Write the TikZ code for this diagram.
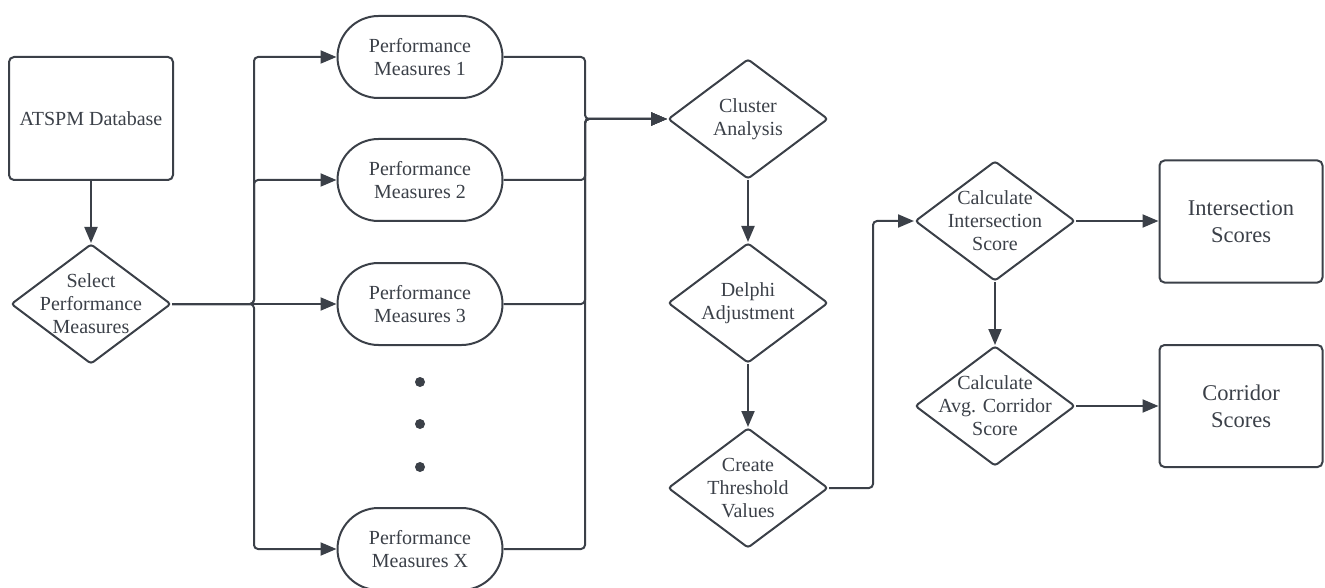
\documentclass[tikz,border=0pt]{standalone}
\usepackage{fontspec}
\setmainfont{Liberation Serif}
\usetikzlibrary{arrows.meta,shapes.geometric,calc}
\definecolor{ink}{HTML}{3B4048}
\begin{document}
\begin{tikzpicture}[x=1pt,y=-1pt,
  every node/.style={text=ink},
  txt/.style={font=\fontsize{20}{23}\selectfont, align=center, inner sep=0pt},
  bigtxt/.style={font=\fontsize{22.5}{27}\selectfont, align=center, inner sep=0pt},
  boxnode/.style={draw=ink, line width=2pt, rounded corners=5pt, minimum width=164pt, minimum height=123pt, txt},
  scorebox/.style={draw=ink, line width=2pt, rounded corners=5pt, minimum width=163pt, minimum height=122pt, bigtxt},
  pmnode/.style={draw=ink, line width=2pt, rounded corners=41pt, minimum width=165pt, minimum height=82pt, txt},
  dia/.style={draw=ink, line width=2pt, diamond, rounded corners=3pt, minimum width=160pt, minimum height=120pt, inner sep=0pt},
  conn/.style={draw=ink, line width=2pt, rounded corners=4pt},
  arr/.style={conn, -{Triangle[length=16pt,width=13pt]}},
  dot/.style={circle, fill=ink, inner sep=0pt, minimum size=10pt}
]
\useasboundingbox (0,0) rectangle (1325,588);

% nodes
\node[boxnode] (atspm) at (91,118.5) {ATSPM Database};
\node[dia, label={[txt]center:Select\\Performance\\Measures}] (sel) at (91,304) {};

\node[pmnode] (pm1) at (420,57) {Performance\\Measures 1};
\node[pmnode] (pm2) at (420,180) {Performance\\Measures 2};
\node[pmnode] (pm3) at (420,304) {Performance\\Measures 3};
\node[pmnode] (pmx) at (420,549) {Performance\\Measures X};

\node[dot] (d1) at (420,382) {};
\node[dot] (d2) at (420,424) {};
\node[dot] (d3) at (420,467) {};

\node[dia, label={[txt]center:Cluster\\Analysis}] (clu) at (748,119) {};
\node[dia, label={[txt]center:Delphi\\Adjustment}] (del) at (748,303) {};
\node[dia, label={[txt]center:Create\\Threshold\\Values}] (thr) at (748,488) {};

\node[dia, label={[txt]center:Calculate\\Intersection\\Score}] (ci) at (995,221) {};
\node[dia, label={[txt]center:Calculate\\Avg. Corridor\\Score}] (ca) at (995,406) {};

\node[scorebox] (is) at (1241,221.5) {Intersection\\Scores};
\node[scorebox] (cs) at (1241,406) {Corridor\\Scores};

% helper coordinates
\coordinate (bl) at (254,304);
\coordinate (br) at (585,119);

% connectors
\draw[arr] (atspm.south) -- (sel.north);
\draw[arr] (sel.east) -- (bl) |- (pm1.west);
\draw[arr] (sel.east) -- (bl) |- (pm2.west);
\draw[arr] (sel.east) -- (pm3.west);
\draw[arr] (sel.east) -- (bl) |- (pmx.west);

\draw[arr] (pm1.east) -| (br) -- (clu.west);
\draw[arr] (pm2.east) -| (br) -- (clu.west);
\draw[arr] (pm3.east) -| (br) -- (clu.west);
\draw[arr] (pmx.east) -| (br) -- (clu.west);

\draw[arr] (clu.south) -- (del.north);
\draw[arr] (del.south) -- (thr.north);
\draw[arr] (thr.east) -- ++(44,0) |- (ci.west);
\draw[arr] (ci.east) -- (ci.east -| is.west);
\draw[arr] (ci.south) -- (ca.north);
\draw[arr] (ca.east) -- (ca.east -| cs.west);
\end{tikzpicture}
\end{document}
